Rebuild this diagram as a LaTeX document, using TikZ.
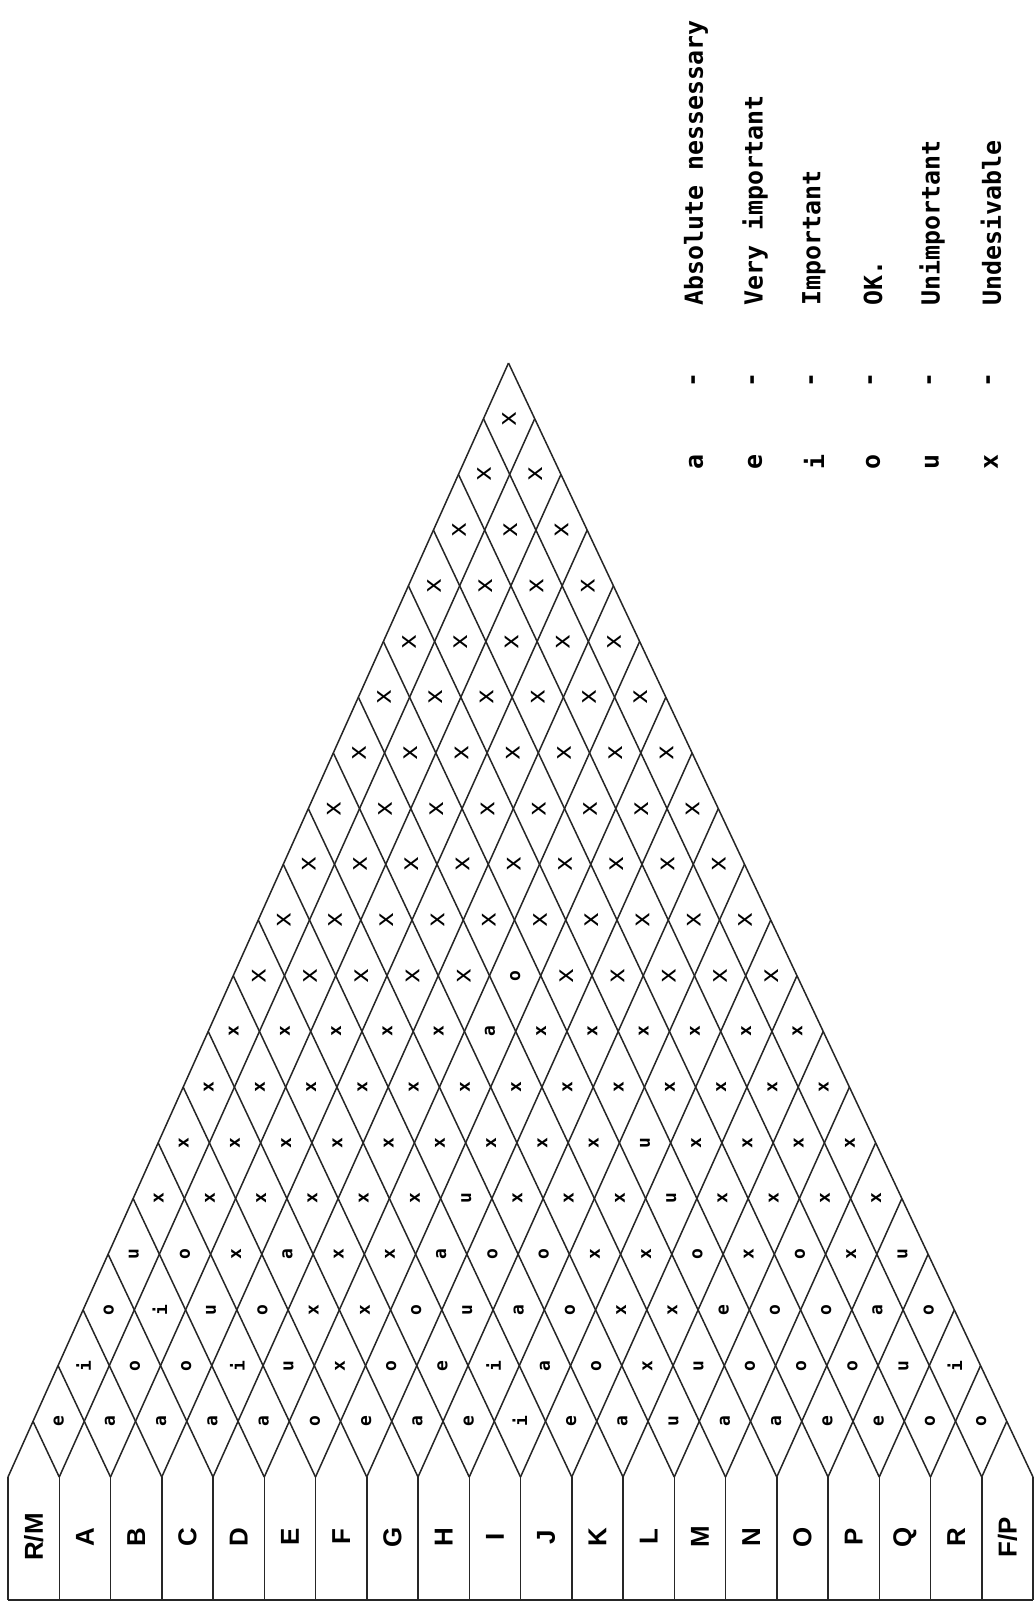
\documentclass[tikz,border=0pt]{standalone}
\usepackage{fontspec}
\setmainfont{Liberation Sans}
\newfontfamily\relfont{DejaVu Sans Mono}
\def\XO{8}\def\W{51.25}\def\H{55.7}\def\S{-0.6}\def\YB{1477}\def\YD{1600}
\begin{document}
\begin{tikzpicture}[x=1bp,y=-1bp,
  grid/.style={line width=1.5bp, black!85},
  lab/.style={font=\fontsize{26}{26}\selectfont\bfseries, rotate=90, inner sep=0},
  rel/.style={font=\relfont\bfseries\fontsize{18}{18}\selectfont, rotate=90, inner sep=0},
  relx/.style={font=\relfont\fontsize{25}{25}\selectfont, rotate=90, inner sep=0},
  leg/.style={font=\relfont\bfseries\fontsize{25}{25}\selectfont, rotate=90, inner sep=0}]
\useasboundingbox (0,0) rectangle (1035,1603);
\fill[white] (0,0) rectangle (1035,1603);
% lattice points
\foreach \i in {0,...,20}{
  \coordinate (B\i) at ({\XO+\i*\W},\YB);
  \coordinate (D\i) at ({\XO+\i*\W},\YD);
  \coordinate (R\i) at ({\XO+(20-\i/2)*\W+\i*\S},{\YB-\i*\H});
  \coordinate (L\i) at ({\XO+(\i/2)*\W+\i*\S},{\YB-\i*\H});
}
% diagonals
\foreach \i in {0,...,19}{
  \pgfmathtruncatemacro\r{20-\i}
  \draw[grid] (B\i) -- (R\r);
}
\foreach \j in {1,...,20}{ \draw[grid] (B\j) -- (L\j); }
% boxes
\foreach \i in {0,...,20}{ \draw[grid] (B\i) -- (D\i); }
\draw[grid, line width=2.5bp] (D0) -- (D20);
% labels
\foreach \t [count=\i from 0] in {R/M,A,B,C,D,E,F,G,H,I,J,K,L,M,N,O,P,Q,R,F/P}{
  \node[lab] (lab\i) at ({\XO+(\i+0.5)*\W},1537) {\t};
}
% relationship letters, levels 1-6
\foreach \k/\lst in {
  1/{e,a,a,a,a,o,e,a,e,i,e,a,u,a,a,e,e,o,o},
  2/{i,o,o,i,u,x,o,e,i,a,o,x,u,o,o,o,u,i},
  3/{o,i,u,o,x,x,o,u,a,o,x,x,e,o,o,a,o},
  4/{u,o,x,a,x,x,a,o,o,x,x,o,x,o,x,u},
  5/{x,x,x,x,x,x,u,x,x,x,u,x,x,x,x},
  6/{x,x,x,x,x,x,x,x,x,u,x,x,x,x}}{
  \foreach \c [count=\i from 0] in \lst {
    \pgfmathtruncatemacro\j{\i+\k}
    \node[rel] (d\i-\j) at ({\XO+((\i+\j+1)/2)*\W+\k*\S},{\YB-\k*\H}) {\c};
  }
}
% levels 7-19
\foreach \k in {7,...,19}{
  \pgfmathtruncatemacro\imax{19-\k}
  \foreach \i in {0,...,\imax}{
    \pgfmathtruncatemacro\j{\i+\k}
    \def\c{x}\def\st{relx}
    \ifnum\k<9 \def\st{rel}\fi
    \ifnum\k=8 \ifnum\i=5 \def\c{a}\fi\fi
    \ifnum\k=9 \ifnum\i=5 \def\c{o}\def\st{rel}\fi\fi
    \node[\st] (d\i-\j) at ({\XO+((\i+\j+1)/2)*\W+\k*\S},{\YB-\k*\H}) {\c};
  }
}
% legend
\foreach \c/\t [count=\n from 0] in {a/Absolute nessessary,e/Very important,i/Important,o/OK.,u/Unimportant,x/Undesivable}{
  \node[leg] (lc\n) at ({696+59*\n},462) {\c};
  \node[leg] (ld\n) at ({696+59*\n},380) {-};
  \node[leg, anchor=west] (lt\n) at ({696+59*\n},306) {\t};
}
\end{tikzpicture}
\end{document}
